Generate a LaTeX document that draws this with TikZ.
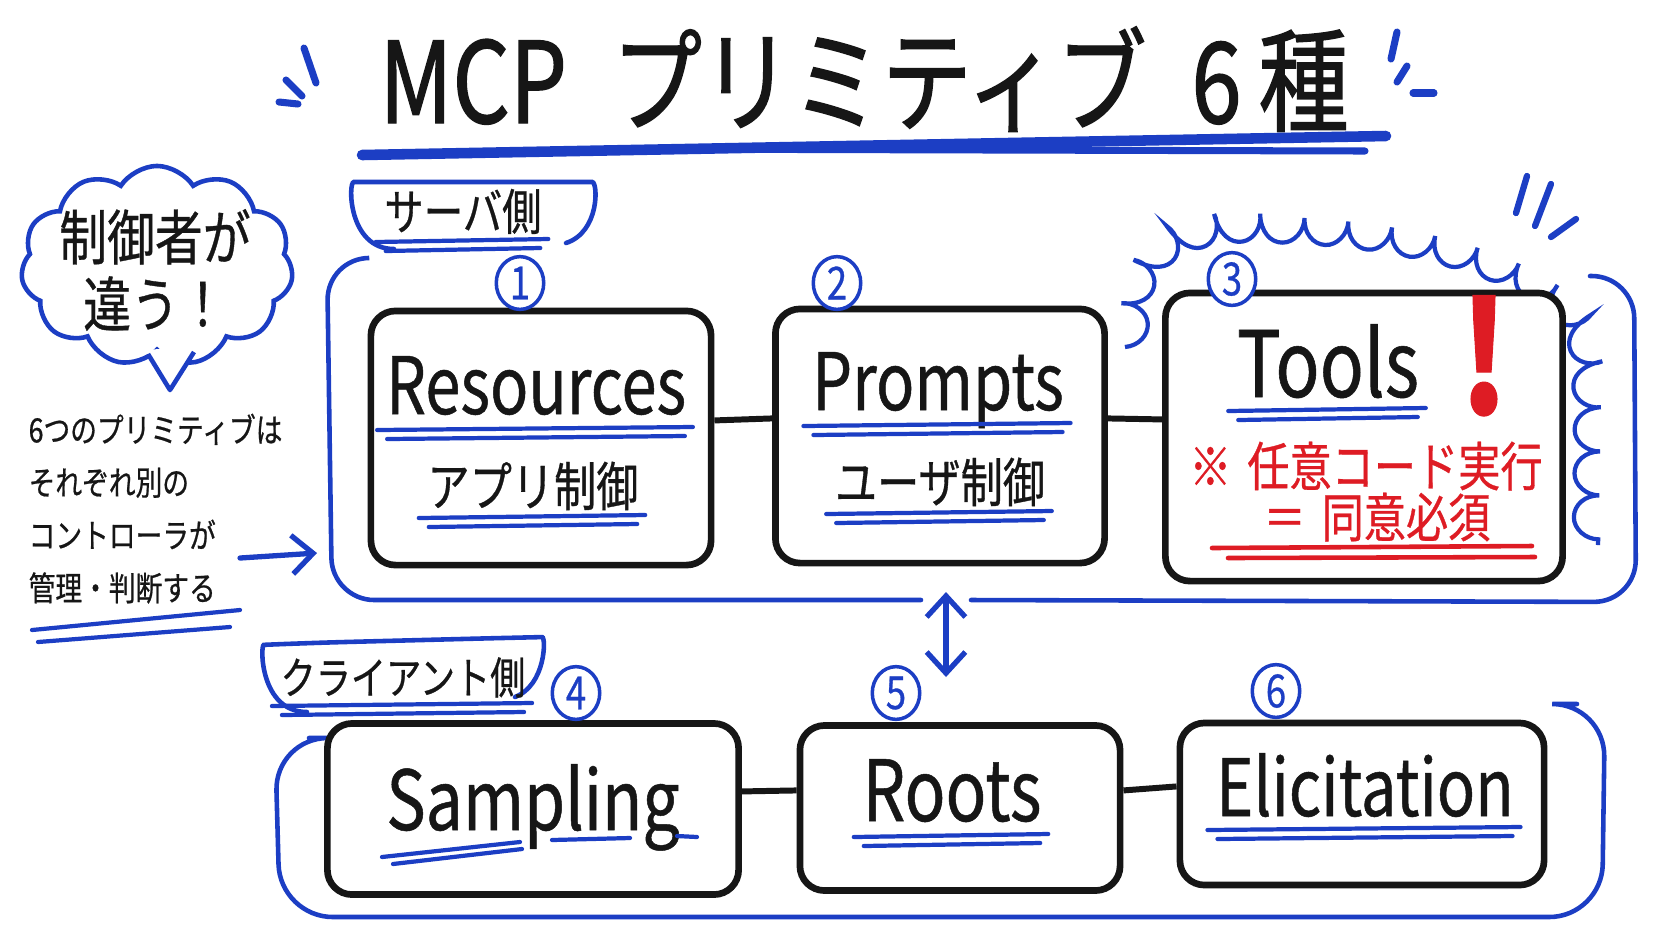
\documentclass[tikz,border=0pt]{standalone}
\usepackage{fontspec}
\usepackage{tikz}
\usetikzlibrary{positioning,calc}
\usetikzlibrary{arrows.meta,decorations.pathmorphing,shapes.symbols,shapes.geometric}
\newfontfamily\hand[FakeStretch=0.8,FakeBold=0.6]{Noto Sans CJK JP}
\newfontfamily\handhead[FakeStretch=0.8,FakeBold=1.2]{Noto Sans CJK JP}
\definecolor{MkBlue}{RGB}{28,62,196}
\definecolor{MkRed}{RGB}{222,28,36}
\definecolor{MkInk}{RGB}{22,22,22}
\tikzset{
  prim/.style={draw=MkInk,fill=white,line width=1.9pt,rounded corners=7pt},
  link/.style={draw=MkInk,line width=1.7pt},
  grp/.style={draw=MkBlue,line width=1.3pt,rounded corners=12pt,line cap=round},
  uline/.style={draw=MkBlue,line width=1.2pt,line cap=round},
  rline/.style={draw=MkRed,line width=1.3pt,line cap=round},
  num/.style={ellipse,draw=MkBlue,fill=white,line width=1pt,minimum width=13.5pt,
    minimum height=15pt,inner sep=0pt,text=MkBlue,font=\hand\fontsize{13}{13}\selectfont},
  big/.style={anchor=base,inner sep=0pt,text=MkInk,font=\hand\fontsize{22.5}{22.5}\selectfont},
  sub/.style={anchor=base,inner sep=0pt,text=MkInk,font=\hand\fontsize{15}{15}\selectfont},
  arr/.style={draw=MkBlue,line width=1.5pt,line cap=round,-{Straight Barb[length=6pt,width=11pt]}},
}

\begin{document}
\begin{tikzpicture}[x=0.01cm,y=-0.01cm]
  \fill[white] (0,0) rectangle (1672,941);
  \useasboundingbox (0,0) rectangle (1672,941);

  % title
  \node[anchor=base,inner sep=0pt,text=MkInk,font=\handhead\fontsize{32}{32}\selectfont]
    (ttl) at (864,123) {MCP\hspace{0.4em}プリミティブ\hspace{0.4em}6\hspace{0.15em}種};
  \draw[uline,line width=3pt] (362,155) -- (1386,136);
  \draw[uline,line width=2pt] (624,149) -- (1365,151);
  \foreach \xa/\ya/\xb/\yb in {304/48/316/83, 286/80/302/96, 279/102/298/104,
      1397/32/1391/59, 1407/66/1397/82, 1413/93/1434/93}
    \draw[uline,line width=2pt] (\xa,\ya) -- (\xb,\yb);

  % burst round Tools
  \draw[draw=MkBlue,line width=1.2pt,decorate,
    decoration={bumps,mirror,segment length=25pt,amplitude=7pt}]
    (1125,347) .. controls (1118,262) and (1160,222) .. (1245,218)
    .. controls (1390,216) and (1530,250) .. (1578,310)
    .. controls (1602,345) and (1600,420) .. (1598,545);
  \foreach \xa/\ya/\xb/\yb in {1527/176/1516/213, 1551/184/1535/226, 1576/219/1551/237}
    \draw[uline,line width=1.8pt] (\xa,\ya) -- (\xb,\yb);

  % groups
  \draw[grp] (368,258) -- (327,258) -- (332,600) -- (921,600);
  \draw[grp] (971,600) -- (1636,602) -- (1634,276) -- (1590,276);
  \draw[grp,rounded corners=15pt] (309,738) -- (275,738) -- (280,917) -- (1602,917)
    -- (1605,704) -- (1577,704);
  \draw[grp] (394,249) .. controls (348,249) and (348,182) .. (396,182) -- (550,182)
    .. controls (598,182) and (600,232) .. (566,243);
  \draw[grp] (307,712) .. controls (260,712) and (260,645) .. (306,643) -- (500,638)
    .. controls (546,637) and (546,685) .. (515,697);
  \node[sub,font=\hand\fontsize{14}{14}\selectfont] (srvL) at (463,230) {サーバ側};
  \node[sub,font=\hand\fontsize{12.5}{12.5}\selectfont] (cliL) at (403,694) {クライアント側};

  % primitives
  \node[prim,minimum width=3.40cm,minimum height=2.54cm] (res) at (541,438) {};
  \node[prim,minimum width=3.29cm,minimum height=2.54cm] (prm) at (940,436) {};
  \node[prim,minimum width=3.97cm,minimum height=2.88cm] (tls) at (1364,437) {};
  \node[prim,minimum width=4.11cm,minimum height=1.71cm] (smp) at (533,809) {};
  \node[prim,minimum width=3.20cm,minimum height=1.65cm] (rts) at (960,808) {};
  \node[prim,minimum width=3.64cm,minimum height=1.62cm] (eli) at (1362,804) {};
  \foreach \a/\b in {res/prm,prm/tls,smp/rts,rts/eli}
    \draw[link] ([yshift=5pt]\a.east) -- ([yshift=5pt]\b.west);

  \node[big] (resT) at (536,414) {Resources};
  \node[sub] (resS) at (533,506) {アプリ制御};
  \node[big] (prmT) at (938,410) {Prompts};
  \node[sub] (prmS) at (940,502) {ユーザ制御};
  \node[big,font=\hand\fontsize{26}{26}\selectfont] (tlsT) at (1328,397) {Tools};
  \node[sub,text=MkRed] (tlsA) at (1366,486) {※\hspace{0.3em}任意コード実行};
  \node[sub,text=MkRed] (tlsB) at (1377,537) {＝\hspace{0.3em}同意必須};
  \node[anchor=base,inner sep=0pt,text=MkRed,font=\hand\bfseries\fontsize{44}{44}\selectfont]
    (bang) at (1484,414) {!};
  \node[big,font=\hand\fontsize{23.5}{23.5}\selectfont] (smpT) at (533,830) {Sampling};
  \node[big,font=\hand\fontsize{24}{24}\selectfont] (rtsT) at (952,821) {Roots};
  \node[big] (eliT) at (1365,816) {Elicitation};

  \foreach \t/\d in {resT/16,prmT/16,tlsT/14,rtsT/16,eliT/14,resS/12,prmS/12,srvL/12,cliL/12}{
    \draw[uline] ($(\t.base west)+(-8,\d)$) -- ($(\t.base east)+(6,\d-3)$);
    \draw[uline] ($(\t.base west)+(2,\d+9)$) -- ($(\t.base east)+(-2,\d+6)$);
  }
  \draw[uline] (382,857) -- (520,842);
  \draw[uline] (393,864) -- (522,849);
  \draw[uline] (552,840) -- (630,838);
  \draw[uline] (677,836) -- (697,837);
  \draw[rline] (1212,548) -- (1532,546);
  \draw[rline] (1228,558) -- (1535,557);

  \foreach \n/\px/\py in {1/520/283, 2/837/283, 3/1232/279, 4/576/693, 5/896/693, 6/1276/691}
    \node[num] (n\n) at (\px,\py) {\n};

  % server <-> client
  \coordinate (srvB) at (946,592);
  \coordinate (cliT) at (946,677);
  \draw[arr,{Straight Barb[length=6pt,width=11pt]}-{Straight Barb[length=6pt,width=11pt]}]
    (srvB) -- (cliT);

  % speech bubble and note
  \node[cloud,cloud puffs=11,cloud puff arc=115,aspect=1.35,draw=MkBlue,line width=1.3pt,
    fill=white,minimum width=2.72cm,minimum height=2.0cm,inner sep=0pt] (bubble) at (157,266) {};
  \fill[white] (146,350) -- (170,392) -- (198,346) -- cycle;
  \draw[draw=MkBlue,line width=1.3pt,line join=round] (148,354) -- (170,390) -- (194,352);
  \node[align=center,inner sep=0pt,text=MkInk,font=\hand\fontsize{17}{19}\selectfont]
    (bubT) at (155,270) {制御者が\\違う！};
  \node[anchor=north west,align=left,inner sep=0pt,text=MkInk,
    font=\hand\fontsize{9.5}{15}\selectfont] (note) at (28,413)
    {6つのプリミティブは\\それぞれ別の\\コントローラが\\管理・判断する};
  \draw[uline] (32,630) -- (240,610);
  \draw[uline] (38,642) -- (230,627);
  \coordinate (noteE) at (240,558);
  \coordinate (srvW) at (317,553);
  \draw[arr] (noteE) -- (srvW);
\end{tikzpicture}
\end{document}
